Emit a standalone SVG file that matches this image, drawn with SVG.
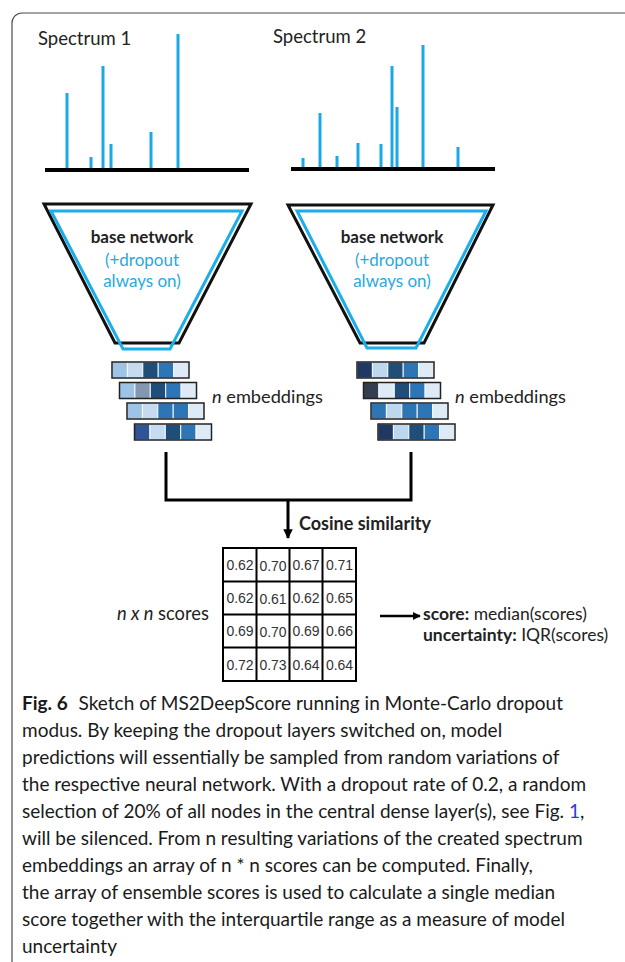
<svg xmlns="http://www.w3.org/2000/svg" width="625" height="962" viewBox="0 0 625 962">
<defs>
<style>
.t{font-family:Lato,"Liberation Sans",sans-serif;fill:#222}
.cap{font-family:Lato,"Liberation Sans",sans-serif;font-size:19px;fill:#1a1a1a}
.b{font-weight:bold}
.it{font-style:italic}
.blue{fill:#29a8e0}
.peak{stroke:#1aa9e6;stroke-width:3;fill:none}
.axis{stroke:#000;stroke-width:4}
.fo{fill:#fff;stroke:#111;stroke-width:3;stroke-linejoin:miter}
.fi{fill:none;stroke:#1aaeea;stroke-width:3}
.cell{stroke:#f4f8fc;stroke-width:1}
.row{fill:none;stroke:#222;stroke-width:1.5}
.con{fill:none;stroke:#000;stroke-width:3}
.grid{fill:none;stroke:#000;stroke-width:2}
.num{font-family:"Liberation Sans",sans-serif;font-size:14px;fill:#333;text-anchor:middle}
</style>
<marker id="ah" viewBox="0 0 10 10" refX="9" refY="5" markerWidth="3.2" markerHeight="3.2" orient="auto" markerUnits="strokeWidth">
<path d="M0,0 L10,5 L0,10 z" fill="#000"/>
</marker>
</defs>
<rect width="625" height="962" fill="#fff"/>
<rect x="12" y="13" width="660" height="960" rx="10" fill="none" stroke="#4a4a4a" stroke-width="1.2"/>

<g id="spectrum1">
<text class="t" x="38" y="45" font-size="18.5">Spectrum 1</text>
<line class="peak" x1="67" y1="168" x2="67" y2="93"/>
<line class="peak" x1="91" y1="168" x2="91" y2="157"/>
<line class="peak" x1="103" y1="168" x2="103" y2="66"/>
<line class="peak" x1="111" y1="168" x2="111" y2="144"/>
<line class="peak" x1="151" y1="168" x2="151" y2="132"/>
<line class="peak" x1="178" y1="168" x2="178" y2="34"/>
<line class="axis" x1="45" y1="170" x2="249" y2="170"/>
</g>

<g id="spectrum2">
<text class="t" x="273" y="43" font-size="18.5">Spectrum 2</text>
<line class="peak" x1="303" y1="167" x2="303" y2="158"/>
<line class="peak" x1="320" y1="167" x2="320" y2="113"/>
<line class="peak" x1="337" y1="167" x2="337" y2="156"/>
<line class="peak" x1="358" y1="167" x2="358" y2="143"/>
<line class="peak" x1="381" y1="167" x2="381" y2="144"/>
<line class="peak" x1="392" y1="167" x2="392" y2="66"/>
<line class="peak" x1="397" y1="167" x2="397" y2="107"/>
<line class="peak" x1="423" y1="167" x2="423" y2="45"/>
<line class="peak" x1="458" y1="167" x2="458" y2="147"/>
<line class="axis" x1="291" y1="169" x2="495" y2="169"/>
</g>

<g id="network1">
<polygon class="fo" points="44,204 251,204 179,343 115,343"/>
<polygon class="fi" points="51,211 242,211 170,349 123,349"/>
<text class="t b" x="142" y="243" font-size="17" text-anchor="middle">base network</text>
<text class="t blue" x="142" y="266" font-size="17" text-anchor="middle">(+dropout</text>
<text class="t blue" x="142" y="287" font-size="17" text-anchor="middle">always on)</text>
</g>

<g id="network2">
<polygon class="fo" points="288,205 493,205 424,343 360,343"/>
<polygon class="fi" points="297,211 486,211 416,348 367,348"/>
<text class="t b" x="392" y="243" font-size="17" text-anchor="middle">base network</text>
<text class="t blue" x="392" y="266" font-size="17" text-anchor="middle">(+dropout</text>
<text class="t blue" x="392" y="287" font-size="17" text-anchor="middle">always on)</text>
</g>

<g id="embeddings1">
<g transform="translate(112,362)">
<rect class="cell" x="0" y="0" width="15.4" height="16" fill="#9dc3e6"/><rect class="cell" x="15.4" y="0" width="15.4" height="16" fill="#c6dbef"/><rect class="cell" x="30.8" y="0" width="15.4" height="16" fill="#1f4e79"/><rect class="cell" x="46.2" y="0" width="15.4" height="16" fill="#2e75b6"/><rect class="cell" x="61.6" y="0" width="15.4" height="16" fill="#deebf7"/>
<rect class="row" x="0" y="0" width="77" height="16"/>
</g>
<g transform="translate(119.5,382.5)">
<rect class="cell" x="0" y="0" width="15.4" height="16" fill="#9dc3e6"/><rect class="cell" x="15.4" y="0" width="15.4" height="16" fill="#8497b0"/><rect class="cell" x="30.8" y="0" width="15.4" height="16" fill="#1f4e79"/><rect class="cell" x="46.2" y="0" width="15.4" height="16" fill="#2e75b6"/><rect class="cell" x="61.6" y="0" width="15.4" height="16" fill="#deebf7"/>
<rect class="row" x="0" y="0" width="77" height="16"/>
</g>
<g transform="translate(127,403)">
<rect class="cell" x="0" y="0" width="15.4" height="16" fill="#9dc3e6"/><rect class="cell" x="15.4" y="0" width="15.4" height="16" fill="#c6dbef"/><rect class="cell" x="30.8" y="0" width="15.4" height="16" fill="#2e75b6"/><rect class="cell" x="46.2" y="0" width="15.4" height="16" fill="#2e75b6"/><rect class="cell" x="61.6" y="0" width="15.4" height="16" fill="#deebf7"/>
<rect class="row" x="0" y="0" width="77" height="16"/>
</g>
<g transform="translate(134.5,424)">
<rect class="cell" x="0" y="0" width="15.4" height="16" fill="#2f5597"/><rect class="cell" x="15.4" y="0" width="15.4" height="16" fill="#c6dbef"/><rect class="cell" x="30.8" y="0" width="15.4" height="16" fill="#1f4e79"/><rect class="cell" x="46.2" y="0" width="15.4" height="16" fill="#2e75b6"/><rect class="cell" x="61.6" y="0" width="15.4" height="16" fill="#deebf7"/>
<rect class="row" x="0" y="0" width="77" height="16"/>
</g>
<text class="t" x="212" y="403" font-size="18.2"><tspan class="it">n</tspan> embeddings</text>
</g>

<g id="embeddings2">
<g transform="translate(357,362)">
<rect class="cell" x="0" y="0" width="15.4" height="16" fill="#1f3864"/><rect class="cell" x="15.4" y="0" width="15.4" height="16" fill="#bdd7ee"/><rect class="cell" x="30.8" y="0" width="15.4" height="16" fill="#1f4e79"/><rect class="cell" x="46.2" y="0" width="15.4" height="16" fill="#2e75b6"/><rect class="cell" x="61.6" y="0" width="15.4" height="16" fill="#deebf7"/>
<rect class="row" x="0" y="0" width="77" height="16"/>
</g>
<g transform="translate(363.5,382.5)">
<rect class="cell" x="0" y="0" width="15.4" height="16" fill="#333f50"/><rect class="cell" x="15.4" y="0" width="15.4" height="16" fill="#deebf7"/><rect class="cell" x="30.8" y="0" width="15.4" height="16" fill="#1f4e79"/><rect class="cell" x="46.2" y="0" width="15.4" height="16" fill="#2e75b6"/><rect class="cell" x="61.6" y="0" width="15.4" height="16" fill="#deebf7"/>
<rect class="row" x="0" y="0" width="77" height="16"/>
</g>
<g transform="translate(371,403)">
<rect class="cell" x="0" y="0" width="15.4" height="16" fill="#2e75b6"/><rect class="cell" x="15.4" y="0" width="15.4" height="16" fill="#bdd7ee"/><rect class="cell" x="30.8" y="0" width="15.4" height="16" fill="#2e75b6"/><rect class="cell" x="46.2" y="0" width="15.4" height="16" fill="#2e75b6"/><rect class="cell" x="61.6" y="0" width="15.4" height="16" fill="#deebf7"/>
<rect class="row" x="0" y="0" width="77" height="16"/>
</g>
<g transform="translate(378,424)">
<rect class="cell" x="0" y="0" width="15.4" height="16" fill="#1f3864"/><rect class="cell" x="15.4" y="0" width="15.4" height="16" fill="#bdd7ee"/><rect class="cell" x="30.8" y="0" width="15.4" height="16" fill="#1f4e79"/><rect class="cell" x="46.2" y="0" width="15.4" height="16" fill="#2e75b6"/><rect class="cell" x="61.6" y="0" width="15.4" height="16" fill="#deebf7"/>
<rect class="row" x="0" y="0" width="77" height="16"/>
</g>
<text class="t" x="455" y="403" font-size="18.2"><tspan class="it">n</tspan> embeddings</text>
</g>

<g id="connectors">
<path class="con" d="M166,452 V500 H411 V452"/>
<line class="con" x1="288" y1="500" x2="288" y2="538" marker-end="url(#ah)"/>
<line x1="380" y1="616" x2="420" y2="616" stroke="#000" stroke-width="2.5" marker-end="url(#ah)"/>
</g>
<text class="t b" x="299" y="530" font-size="18">Cosine similarity</text>

<g id="scores">
<rect class="grid" x="223" y="548" width="133" height="133"/>
<path class="grid" d="M256.5,548 V681 M289.5,548 V681 M322.5,548 V681 M223,581.5 H356 M223,614.5 H356 M223,647.5 H356"/>
<g class="num">
<text x="240" y="570">0.62</text><text x="273" y="570.5">0.70</text><text x="306" y="570">0.67</text><text x="339.5" y="570">0.71</text>
<text x="240" y="603">0.62</text><text x="273" y="603.5">0.61</text><text x="306" y="603">0.62</text><text x="339.5" y="603">0.65</text>
<text x="240" y="636">0.69</text><text x="273" y="636.5">0.70</text><text x="306" y="636">0.69</text><text x="339.5" y="636">0.66</text>
<text x="240" y="669.5">0.72</text><text x="273" y="669.5">0.73</text><text x="306" y="669.5">0.64</text><text x="339.5" y="669.5">0.64</text>
</g>
<text class="t" x="117" y="620" font-size="18.3"><tspan class="it">n x n</tspan> scores</text>
</g>

<g id="result">
<text class="t" x="423" y="620" font-size="17.5"><tspan class="b">score:</tspan> median(scores)</text>
<text class="t" x="423" y="641" font-size="17.5"><tspan class="b">uncertainty:</tspan> IQR(scores)</text>
</g>

<g id="caption">
<text class="cap" x="22" y="710"><tspan class="b">Fig. 6</tspan><tspan dx="6"> Sketch of MS2DeepScore running in Monte-Carlo dropout</tspan></text>
<text class="cap" x="22" y="737">modus. By keeping the dropout layers switched on, model</text>
<text class="cap" x="22" y="764">predictions will essentially be sampled from random variations of</text>
<text class="cap" x="22" y="791">the respective neural network. With a dropout rate of 0.2, a random</text>
<text class="cap" x="22" y="818">selection of 20% of all nodes in the central dense layer(s), see Fig. <tspan fill="#2a3cd8">1</tspan>,</text>
<text class="cap" x="22" y="845">will be silenced. From n resulting variations of the created spectrum</text>
<text class="cap" x="22" y="872">embeddings an array of n * n scores can be computed. Finally,</text>
<text class="cap" x="22" y="899">the array of ensemble scores is used to calculate a single median</text>
<text class="cap" x="22" y="926">score together with the interquartile range as a measure of model</text>
<text class="cap" x="22" y="953">uncertainty</text>
</g>
</svg>
